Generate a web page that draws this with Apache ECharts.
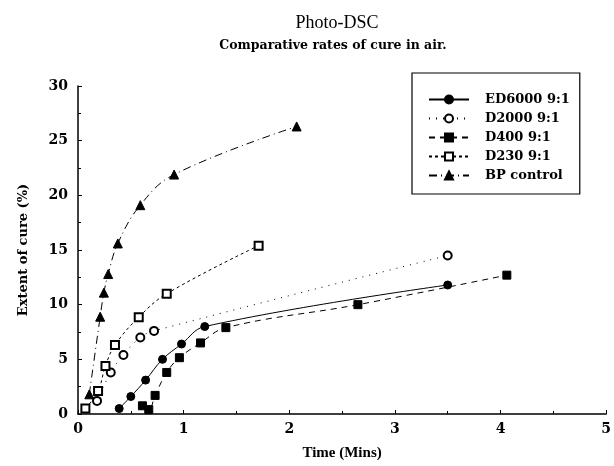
<!DOCTYPE html>
<html>
<head>
<meta charset="utf-8">
<script src="https://cdn.jsdelivr.net/npm/echarts@6/dist/echarts.min.js"></script>
<style>
    html, body { margin: 0; padding: 0; background: #fff; }
    #chart { width: 614px; height: 466px; }
</style>
</head>
<body>
<div id="chart"></div>
<script>
    // values: [time (mins), extent of cure (%)]
    const ed6000 = [[0.39, 0.5], [0.50, 1.6], [0.64, 3.1], [0.80, 5.0], [0.98, 6.4], [1.20, 8.0], [3.50, 11.8]]
    const d2000 = [[0.18, 1.2], [0.31, 3.8], [0.43, 5.4], [0.59, 7.0], [0.72, 7.6], [3.50, 14.5]]
    const d400 = [[0.61, 0.75], [0.67, 0.4], [0.73, 1.7], [0.84, 3.8], [0.96, 5.15], [1.16, 6.5], [1.40, 7.9], [2.65, 10.0], [4.06, 12.7]]
    const d230 = [[0.07, 0.5], [0.19, 2.1], [0.26, 4.4], [0.35, 6.3], [0.575, 8.85], [0.84, 11.0], [1.71, 15.4]]
    const bpControl = [[0.107, 1.8], [0.21, 8.9], [0.245, 11.1], [0.286, 12.8], [0.377, 15.6], [0.59, 19.1], [0.91, 21.9], [2.07, 26.3]]

    const seriesNames = ['ED6000 9:1', 'D2000 9:1', 'D400 9:1', 'D230 9:1', 'BP control']

    const serif = 'Liberation Serif'
    const wide = 'DejaVu Serif'

    const mkSeries = (name, data, symbol, dash) => {
        return {
            name: name,
            type: 'line',
            data: data,
            smooth: 0.4,
            symbol: symbol,
            symbolSize: symbol === 'triangle' ? 9 : 8,
            itemStyle: { color: '#000', borderColor: '#000', borderWidth: 1 },
            lineStyle: { color: '#000', width: 1, type: dash },
            emphasis: { disabled: true },
            z: 3
        }
    }

    const chart = echarts.init(document.getElementById('chart'))
    const option = {
        animation: false,
        backgroundColor: '#fff',
        title: [{
            text: 'Photo-DSC',
            left: 332,
            top: 9,
            textAlign: 'center',
            textStyle: { fontFamily: serif, fontSize: 18, fontWeight: 'normal', color: '#000' }
        }, {
            text: 'Comparative rates of cure in air.',
            left: 328,
            top: 34,
            textAlign: 'center',
            textStyle: { fontFamily: wide, fontSize: 12.5, fontWeight: 'bold', color: '#000' }
        }],
        legend: {
            orient: 'vertical',
            left: 412,
            top: 73,
            width: 186,
            padding: [20, 10, 12, 16],
            itemGap: 6,
            itemWidth: 40,
            itemHeight: 10,
            borderColor: '#000',
            borderWidth: 1.2,
            data: seriesNames,
            textStyle: { fontFamily: wide, fontSize: 13, fontWeight: 'bold', color: '#000', padding: [0, 0, 0, 11] }
        },
        grid: { left: 78, right: 5, top: 86, bottom: 48 },
        xAxis: {
            type: 'value',
            min: 0,
            max: 5,
            interval: 1,
            name: 'Time (Mins)',
            nameLocation: 'middle',
            nameGap: 32,
            nameTextStyle: { fontFamily: serif, fontSize: 15, fontWeight: 'bold', color: '#000' },
            axisLine: { lineStyle: { color: '#000', width: 1.5 } },
            axisTick: { inside: true, length: 4, lineStyle: { color: '#000' } },
            minorTick: { show: true, splitNumber: 2, length: 3, lineStyle: { color: '#000' } },
            axisLabel: { fontFamily: wide, fontSize: 14, fontWeight: 'bold', color: '#000', margin: 8 },
            splitLine: { show: false }
        },
        yAxis: {
            type: 'value',
            min: 0,
            max: 30,
            interval: 5,
            name: 'Extent of cure (%)',
            nameLocation: 'middle',
            nameGap: 48,
            nameTextStyle: { fontFamily: wide, fontSize: 13, fontWeight: 'bold', color: '#000' },
            axisLine: { show: true, lineStyle: { color: '#000', width: 1.5 } },
            axisTick: { show: true, inside: true, length: 4, lineStyle: { color: '#000' } },
            minorTick: { show: true, splitNumber: 2, length: 3, lineStyle: { color: '#000' } },
            axisLabel: { fontFamily: wide, fontSize: 14, fontWeight: 'bold', color: '#000', margin: 10 },
            splitLine: { show: false }
        },
        series: [
            mkSeries(seriesNames[0], ed6000, 'circle', 'solid'),
            mkSeries(seriesNames[1], d2000, 'emptyCircle', [1, 6]),
            mkSeries(seriesNames[2], d400, 'rect', [6, 5]),
            mkSeries(seriesNames[3], d230, 'emptyRect', [3, 3]),
            mkSeries(seriesNames[4], bpControl, 'triangle', [8, 4, 1, 4])
        ]
    }
    chart.setOption(option)
</script>
</body>
</html>
